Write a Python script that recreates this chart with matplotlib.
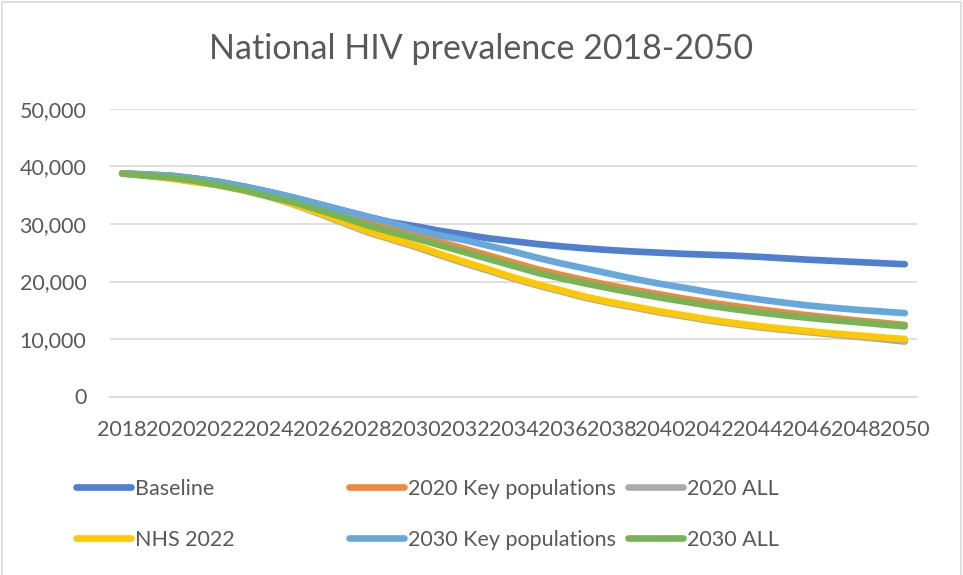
import matplotlib
matplotlib.use("Agg")
import matplotlib.pyplot as plt
from matplotlib.lines import Line2D
from matplotlib.patches import Rectangle
from matplotlib.ticker import FuncFormatter

years = list(range(2018, 2051))

baseline = [38800, 38600, 38400, 37900, 37300, 36500, 35600, 34600, 33500, 32400,
            31300, 30300, 29600, 28800, 28150, 27500, 27000, 26500, 26100, 25750,
            25450, 25200, 25000, 24800, 24650, 24500, 24300, 24050, 23800, 23600,
            23400, 23200, 23000]
key_pop_2020 = [38800, 38450, 38000, 37500, 36900, 36200, 35300, 34300, 33200, 32000,
                30700, 29400, 28100, 26900, 25700, 24500, 23300, 22100, 21100, 20150,
                19300, 18500, 17750, 17000, 16350, 15750, 15200, 14650, 14150, 13700,
                13250, 12850, 12450]
all_2020 = [38800, 38400, 37900, 37300, 36700, 35800, 34750, 33400, 31850, 30250,
            28600, 27300, 26000, 24550, 23150, 21850, 20500, 19300, 18200, 17100,
            16200, 15400, 14600, 13900, 13200, 12600, 12050, 11600, 11200, 10800,
            10400, 10000, 9550]
nhs_2022 = [38800, 38400, 37900, 37300, 36700, 35800, 34800, 33500, 32000, 30450,
            28800, 27500, 26250, 24800, 23400, 22100, 20700, 19500, 18400, 17300,
            16400, 15600, 14800, 14100, 13400, 12800, 12250, 11800, 11400, 11000,
            10650, 10300, 10000]
key_pop_2030 = [38800, 38600, 38400, 37900, 37300, 36500, 35600, 34600, 33500, 32400,
                31300, 30200, 29000, 28000, 27200, 26200, 25200, 24100, 23100, 22200,
                21300, 20400, 19600, 18900, 18150, 17500, 16900, 16350, 15850, 15450,
                15100, 14800, 14500]
all_2030 = [38800, 38400, 38100, 37500, 36700, 35900, 34800, 33800, 32500, 31200,
            29800, 28600, 27500, 26300, 25100, 23900, 22700, 21500, 20500, 19600,
            18750, 17950, 17200, 16500, 15800, 15200, 14650, 14150, 13700, 13300,
            12950, 12550, 12200]

series_names = ["Baseline", "2020 Key populations", "2020 ALL",
                "NHS 2022", "2030 Key populations", "2030 ALL"]
series_values = [baseline, key_pop_2020, all_2020, nhs_2022, key_pop_2030, all_2030]
series_colors = ["#4F7FCF", "#ED8A3F", "#ABABAB", "#FFC800", "#67A8DC", "#78B355"]

y_ticks = [0, 10000, 20000, 30000, 40000, 50000]
x_ticks = list(range(2018, 2051, 2))

plt.rcParams["font.family"] = ["Lato", "DejaVu Sans"]
text_color = "#595959"
grid_color = "#D9D9D9"

fig = plt.figure(figsize=(9.63, 5.75), dpi=100)
ax = fig.add_axes([110 / 963, 1 - 396.5 / 575, 807 / 963, 287.5 / 575])

lw = 4.8
for name, vals, col in zip(series_names, series_values, series_colors):
    ax.plot(years, vals, color=col, lw=lw, solid_capstyle="round",
            solid_joinstyle="round", label=name)

ax.set_xlim(2017.5, 2050.5)
ax.set_ylim(0, 50000)
ax.set_yticks(y_ticks)
ax.yaxis.set_major_formatter(FuncFormatter(lambda v, p: f"{int(v):,}"))
ax.set_xticks(x_ticks)
ax.set_xticklabels([str(t) for t in x_ticks])
ax.tick_params(axis="both", length=0, labelsize=15.5, colors=text_color)
ax.tick_params(axis="y", pad=17)
ax.tick_params(axis="x", pad=17)
ax.grid(axis="y", color=grid_color, lw=1.2)
ax.set_axisbelow(True)
for side in ["top", "right", "left"]:
    ax.spines[side].set_visible(False)
ax.spines["bottom"].set_color(grid_color)
ax.spines["bottom"].set_linewidth(1.2)

fig.text(0.5, 1 - 49 / 575, "National HIV prevalence 2018-2050", ha="center",
         va="center", fontsize=24.5, color=text_color, fontweight="normal")

# legend laid out in three columns, two rows
col_x = [76 / 963, 349 / 963, 628 / 963]
for c in range(3):
    handles = []
    labels = []
    for r in range(2):
        i = r * 3 + c
        handles.append(Line2D([], [], color=series_colors[i], lw=lw,
                              solid_capstyle="round"))
        labels.append(series_names[i])
    leg = fig.legend(handles, labels, loc="upper left",
                     bbox_to_anchor=(col_x[c], 1 - 479 / 575),
                     frameon=False, fontsize=15.5, handlelength=2.55,
                     handletextpad=0.2, labelspacing=1.42, borderpad=0,
                     borderaxespad=0)
    for t in leg.get_texts():
        t.set_color(text_color)

fig.patches.append(Rectangle((1.5 / 963, -0.01), 959.5 / 963, 1.0 - 1.5 / 575 + 0.01,
                             transform=fig.transFigure, fill=False,
                             edgecolor=grid_color, lw=1.2))

fig.savefig("out.png", dpi=100)
